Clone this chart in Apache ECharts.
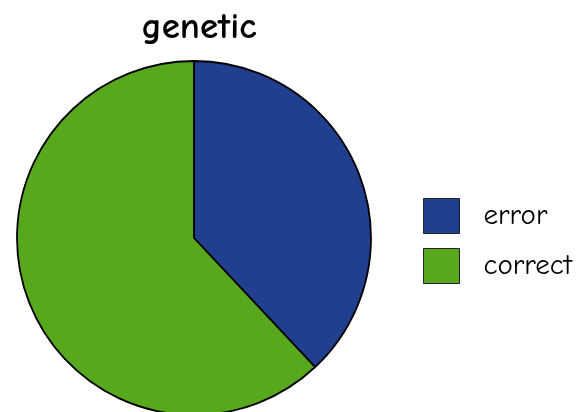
<!DOCTYPE html>
<html>
<head>
<meta charset="utf-8">
<script src="https://cdn.jsdelivr.net/npm/echarts@6/dist/echarts.min.js"></script>
<style>
  html, body { margin: 0; padding: 0; background: #ffffff; }
  #chart { width: 579px; height: 412px; }
</style>
</head>
<body>
<div id="chart"></div>
<script>
// Share of predictions for the "genetic" set
const titleText = 'genetic';
const categories = ['error', 'correct'];
const values = [38, 62];
const colors = ['#213f8f', '#58a81e'];

const FONT = '"Comic Sans MS", "Comic Neue", "Humor Sans", "Open Sans", sans-serif';

const chart = echarts.init(document.getElementById('chart'), null, { renderer: 'canvas' });

chart.setOption({
  animation: false,
  backgroundColor: '#ffffff',
  title: {
    text: titleText,
    left: 199,
    top: 9,
    textAlign: 'center',
    padding: 0,
    textStyle: { fontFamily: FONT, fontSize: 37, fontWeight: 'bold', color: '#000' }
  },
  legend: {
    orient: 'vertical',
    left: 423,
    top: 198,
    padding: 0,
    itemWidth: 36,
    itemHeight: 35,
    itemGap: 14,
    icon: 'rect',
    data: categories,
    itemStyle: { borderColor: '#222', borderWidth: 1 },
    textStyle: { fontFamily: FONT, fontSize: 29, color: '#000', padding: [0, 0, 0, 19] }
  },
  series: [{
    type: 'pie',
    center: [194, 238],
    radius: 177,
    startAngle: 90,
    clockwise: true,
    label: { show: false },
    labelLine: { show: false },
    emphasis: { disabled: true },
    itemStyle: { borderColor: '#000', borderWidth: 1.8 },
    data: categories.map((name, i) => ({
      name,
      value: values[i],
      itemStyle: { color: colors[i] }
    }))
  }]
});
</script>
</body>
</html>
